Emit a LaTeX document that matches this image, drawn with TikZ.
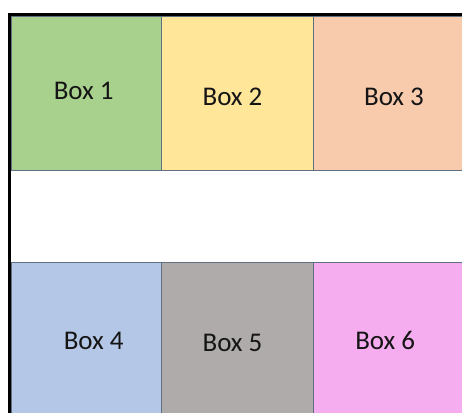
\documentclass[tikz,border=0pt]{standalone}
\usepackage{fontspec}
\setmainfont{Carlito}
\definecolor{cA}{HTML}{A9D18E}
\definecolor{cB}{HTML}{FFE699}
\definecolor{cC}{HTML}{F8CBAD}
\definecolor{cD}{HTML}{B4C7E7}
\definecolor{cE}{HTML}{AFABAB}
\definecolor{cF}{HTML}{F5ADEF}
\definecolor{edgec}{HTML}{5F7083}
\definecolor{txtc}{HTML}{151515}
\tikzset{
  cell/.style={draw=edgec, line width=0.9pt, rectangle, inner sep=0pt, anchor=north west},
  lbl/.style={inner sep=0pt, text=txtc, font=\fontsize{27}{30}\selectfont},
}
\begin{document}
\begin{tikzpicture}[x=1pt,y=-1pt]
\useasboundingbox (0,0) rectangle (462,412);
\fill[white] (0,0) rectangle (462,412);
% top row
\node[cell, fill=cA, minimum width=150pt, minimum height=154pt] (b1) at (11,16) {};
\node[cell, fill=cB, minimum width=152pt, minimum height=154pt] (b2) at (161,16) {};
\node[cell, fill=cC, minimum width=170pt, minimum height=154pt] (b3) at (313,16) {};
% bottom row
\node[cell, fill=cD, minimum width=150pt, minimum height=160pt] (b4) at (11,262) {};
\node[cell, fill=cE, minimum width=152pt, minimum height=160pt] (b5) at (161,262) {};
\node[cell, fill=cF, minimum width=170pt, minimum height=160pt] (b6) at (313,262) {};
% labels
\node[lbl] (l1) at (83.7,91.3) {Box 1};
\node[lbl] (l2) at (232.5,97) {Box 2};
\node[lbl] (l3) at (394,97) {Box 3};
\node[lbl] (l4) at (93.7,341.3) {Box 4};
\node[lbl] (l5) at (232.5,343) {Box 5};
\node[lbl] (l6) at (385.2,340) {Box 6};
% thick black frame (left and top)
\coordinate (fbl) at (9.5,414);
\coordinate (ftl) at (9.5,14.5);
\coordinate (ftr) at (464,14.5);
\draw[black, line width=3.5pt] (fbl) -- (ftl) -- (ftr);
\end{tikzpicture}
\end{document}
